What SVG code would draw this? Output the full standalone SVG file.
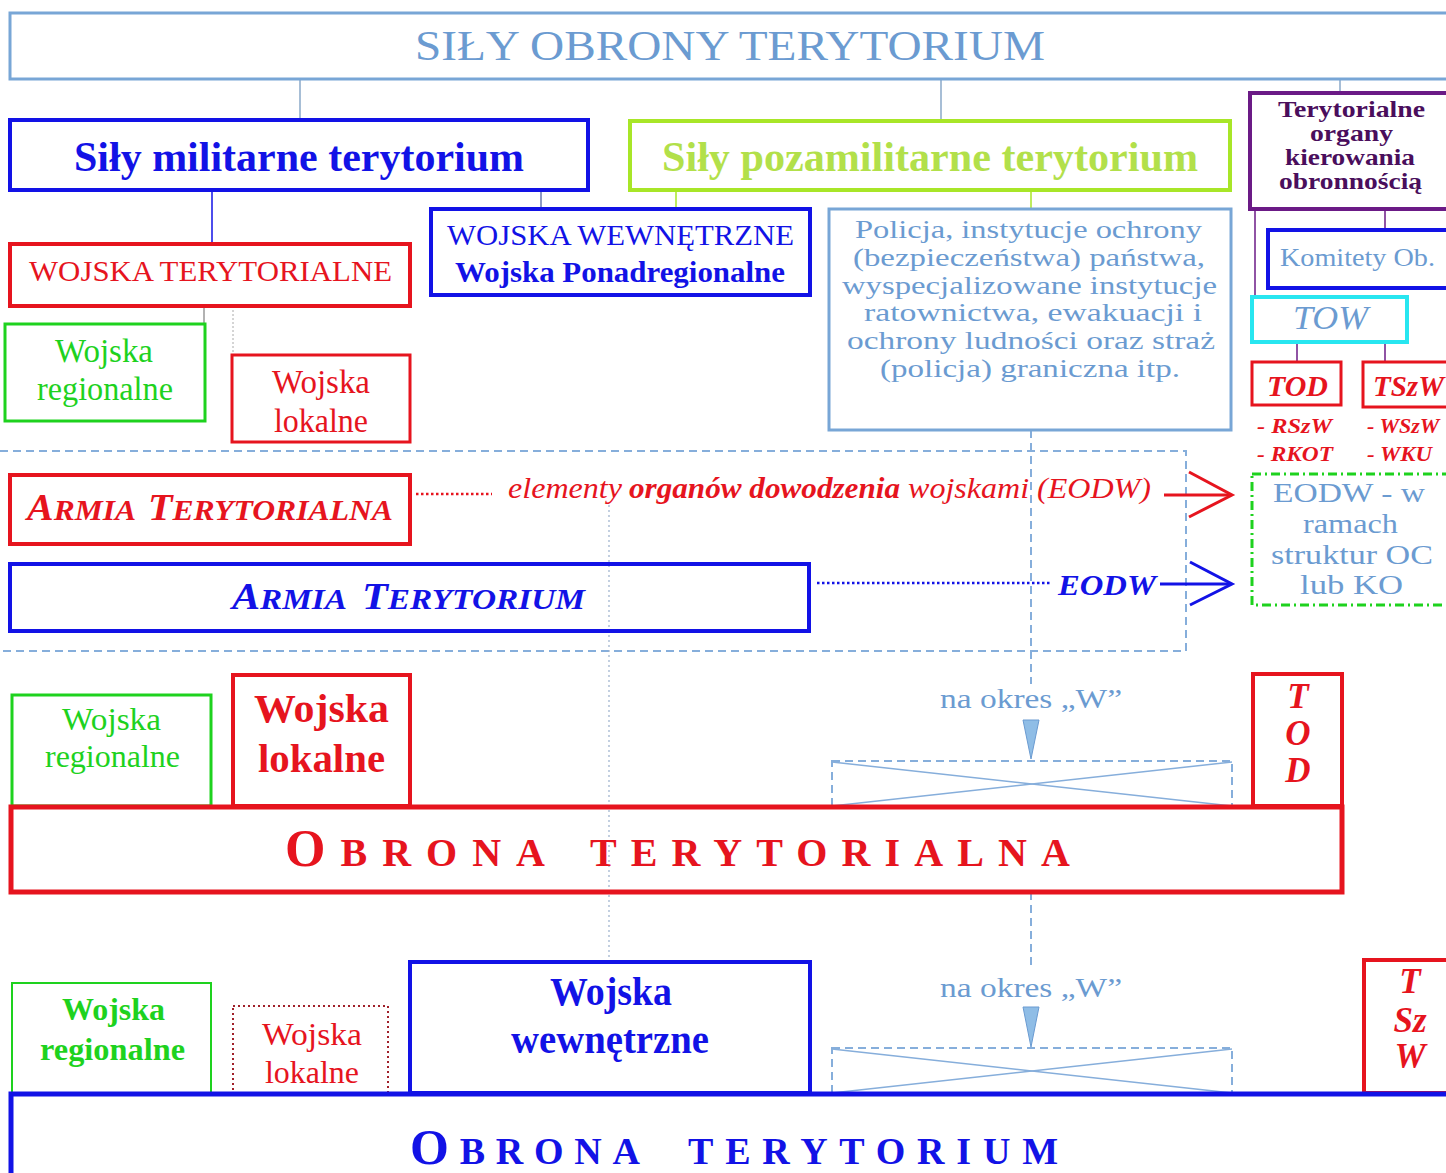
<svg xmlns="http://www.w3.org/2000/svg" width="1446" height="1173" viewBox="0 0 1446 1173">
<defs>
<style>
text{font-family:"Liberation Serif","Times New Roman",serif}
.b{font-weight:bold}
.i{font-style:italic}
.blue{fill:#1212e6}
.red{fill:#e6141e}
.green{fill:#1ed21e}
.yg{fill:#b2e04a}
.lb{fill:#6b9bd1}
.pur{fill:#4a0e5c}
.mid{text-anchor:middle}
.box{fill:none}
.sBlue{stroke:#1212e6}
.sRed{stroke:#e6141e}
.sGreen{stroke:#1ed21e}
.sYg{stroke:#a8e628}
.sLb{stroke:#78a6d6}
.sPur{stroke:#6b1a86}
.sCyan{stroke:#28e6f0}
.conn{fill:none;stroke-width:1.5}
.dash{fill:none;stroke:#86aedb;stroke-width:2;stroke-dasharray:8 5}
.dot{fill:none;stroke:#9ab0cc;stroke-width:1.2;stroke-dasharray:2 3}
.cone{fill:#8fbde6;stroke:#6b9bd1;stroke-width:1}
.xl{fill:none;stroke:#86aedb;stroke-width:1.5}
</style>
</defs>

<g id="connectors">
<line class="conn" x1="300" y1="79" x2="300" y2="120" stroke="#8aa8c8"/>
<line class="conn" x1="941" y1="79" x2="941" y2="121" stroke="#8aa8c8"/>
<line class="conn" x1="1340" y1="79" x2="1340" y2="93" stroke="#8aa8c8"/>
<line class="conn sBlue" x1="212" y1="190" x2="212" y2="244" stroke-width="2"/>
<line class="conn" x1="541" y1="190" x2="541" y2="209" stroke="#6a7ab0"/>
<line class="conn sYg" x1="676" y1="190" x2="676" y2="209" stroke-width="2.5"/>
<line class="conn sYg" x1="1031" y1="190" x2="1031" y2="209" stroke-width="2.5"/>
<line class="conn" x1="204" y1="306" x2="204" y2="324" stroke="#999"/>
<line x1="233" y1="306" x2="233" y2="354" stroke="#aaa" stroke-width="1" stroke-dasharray="2 2"/>
<line class="conn sPur" x1="1255" y1="209" x2="1255" y2="297" stroke-width="3"/>
<line class="conn sPur" x1="1385" y1="209" x2="1385" y2="230" stroke-width="3"/>
<line class="conn sPur" x1="1297" y1="342" x2="1297" y2="362" stroke-width="3"/>
<line class="conn sPur" x1="1385" y1="342" x2="1385" y2="362" stroke-width="3"/>
<polyline class="dash" points="0,451 1186,451 1186,651 0,651"/>
<line class="dash" x1="1031" y1="430" x2="1031" y2="684" stroke-width="1.5"/>
<line class="dash" x1="1031" y1="892" x2="1031" y2="965" stroke-width="1.5"/>
<line class="dot" x1="609" y1="505" x2="609" y2="962"/>
<line x1="416" y1="494" x2="492" y2="494" stroke="#e6141e" stroke-width="2.5" stroke-dasharray="2.5 2.5"/>
<line x1="1164" y1="495" x2="1230" y2="495" stroke="#e6141e" stroke-width="3"/>
<polyline points="1189,472 1232,495 1189,517" fill="none" stroke="#e6141e" stroke-width="3"/>
<line x1="817" y1="583" x2="1050" y2="583" stroke="#1212e6" stroke-width="2.5" stroke-dasharray="2.5 2.5"/>
<line x1="1160" y1="584" x2="1230" y2="584" stroke="#1212e6" stroke-width="3"/>
<polyline points="1190,562 1232,584 1190,605" fill="none" stroke="#1212e6" stroke-width="3"/>
<polygon class="cone" points="1023,720 1039,720 1031,759"/>
<rect class="dash" x="832" y="761" width="400" height="45" stroke-width="1.5"/>
<line class="xl" x1="832" y1="762" x2="1232" y2="806"/>
<line class="xl" x1="832" y1="806" x2="1232" y2="762"/>
<polygon class="cone" points="1023,1007 1039,1007 1031,1047"/>
<rect class="dash" x="832" y="1048" width="400" height="45" stroke-width="1.5"/>
<line class="xl" x1="832" y1="1049" x2="1232" y2="1093"/>
<line class="xl" x1="832" y1="1093" x2="1232" y2="1049"/>
</g>

<g id="title">
<rect class="box sLb" x="10" y="13" width="1450" height="66" stroke-width="3"/>
<text class="lb" x="415" y="60" font-size="42" textLength="630" lengthAdjust="spacingAndGlyphs">SIŁY OBRONY TERYTORIUM</text>
</g>

<g id="sily-militarne">
<rect class="box sBlue" x="10" y="120" width="578" height="70" stroke-width="4"/>
<text class="b blue" x="74" y="171" font-size="42" textLength="450" lengthAdjust="spacingAndGlyphs">Siły militarne terytorium</text>
</g>

<g id="sily-pozamilitarne">
<rect class="box sYg" x="630" y="121" width="600" height="69" stroke-width="4"/>
<text class="b yg" x="662" y="171" font-size="42" textLength="536" lengthAdjust="spacingAndGlyphs">Siły pozamilitarne terytorium</text>
</g>

<g id="wojska-terytorialne">
<rect class="box sRed" x="10" y="244" width="400" height="62" stroke-width="4"/>
<text class="red" x="29" y="281" font-size="29" textLength="363" lengthAdjust="spacingAndGlyphs">WOJSKA TERYTORIALNE</text>
</g>

<g id="wojska-wewnetrzne-top">
<rect class="box sBlue" x="431" y="209" width="379" height="86" stroke-width="4"/>
<text class="blue" x="447" y="245" font-size="30" textLength="347" lengthAdjust="spacingAndGlyphs">WOJSKA WEWNĘTRZNE</text>
<text class="b blue" x="455" y="282" font-size="30" textLength="330" lengthAdjust="spacingAndGlyphs">Wojska Ponadregionalne</text>
</g>

<g id="policja">
<rect class="box sLb" x="829" y="209" width="402" height="221" stroke-width="3"/>
<text class="lb" x="855" y="238" font-size="26" textLength="347" lengthAdjust="spacingAndGlyphs">Policja, instytucje ochrony</text>
<text class="lb" x="853" y="266" font-size="26" textLength="352" lengthAdjust="spacingAndGlyphs">(bezpieczeństwa) państwa,</text>
<text class="lb" x="842" y="294" font-size="26" textLength="375" lengthAdjust="spacingAndGlyphs">wyspecjalizowane instytucje</text>
<text class="lb" x="864" y="321" font-size="26" textLength="338" lengthAdjust="spacingAndGlyphs">ratownictwa, ewakuacji i</text>
<text class="lb" x="847" y="349" font-size="26" textLength="368" lengthAdjust="spacingAndGlyphs">ochrony ludności oraz straż</text>
<text class="lb" x="880" y="377" font-size="26" textLength="300" lengthAdjust="spacingAndGlyphs">(policja) graniczna itp.</text>
</g>

<g id="wojska-regionalne-1">
<rect class="box sGreen" x="5" y="324" width="200" height="97" stroke-width="3"/>
<text class="green" x="55" y="362" font-size="33" textLength="98" lengthAdjust="spacingAndGlyphs">Wojska</text>
<text class="green" x="37" y="400" font-size="33" textLength="136" lengthAdjust="spacingAndGlyphs">regionalne</text>
</g>

<g id="wojska-lokalne-1">
<rect class="box sRed" x="232" y="355" width="178" height="87" stroke-width="3"/>
<text class="red" x="272" y="393" font-size="33" textLength="98" lengthAdjust="spacingAndGlyphs">Wojska</text>
<text class="red" x="274" y="432" font-size="33" textLength="94" lengthAdjust="spacingAndGlyphs">lokalne</text>
</g>

<g id="terytorialne-organy">
<rect class="box sPur" x="1250" y="93" width="210" height="116" stroke-width="4"/>
<text class="b pur" x="1278" y="117" font-size="23" textLength="147" lengthAdjust="spacingAndGlyphs">Terytorialne</text>
<text class="b pur" x="1310" y="141" font-size="23" textLength="83" lengthAdjust="spacingAndGlyphs">organy</text>
<text class="b pur" x="1285" y="165" font-size="23" textLength="130" lengthAdjust="spacingAndGlyphs">kierowania</text>
<text class="b pur" x="1279" y="189" font-size="23" textLength="143" lengthAdjust="spacingAndGlyphs">obronnością</text>
</g>

<g id="komitety">
<rect class="box sBlue" x="1268" y="230" width="190" height="58" stroke-width="4"/>
<text class="lb" x="1280" y="266" font-size="26" textLength="155" lengthAdjust="spacingAndGlyphs">Komitety Ob.</text>
</g>

<g id="tow">
<rect class="box sCyan" x="1252" y="297" width="155" height="45" stroke-width="4"/>
<text class="i lb" x="1293" y="329" font-size="33" textLength="75" lengthAdjust="spacingAndGlyphs">TOW</text>
</g>

<g id="tod-small">
<rect class="box sRed" x="1252" y="362" width="89" height="43" stroke-width="3"/>
<text class="b i red" x="1267" y="396" font-size="29" textLength="61" lengthAdjust="spacingAndGlyphs">TOD</text>
<text class="b i red" x="1257" y="433" font-size="22" textLength="75" lengthAdjust="spacingAndGlyphs">- RSzW</text>
<text class="b i red" x="1257" y="461" font-size="22" textLength="76" lengthAdjust="spacingAndGlyphs">- RKOT</text>
</g>

<g id="tszw-small">
<rect class="box sRed" x="1363" y="362" width="97" height="45" stroke-width="3"/>
<text class="b i red" x="1373" y="396" font-size="29">TSzW</text>
<text class="b i red" x="1367" y="433" font-size="22">- WSzW</text>
<text class="b i red" x="1367" y="461" font-size="22" textLength="65" lengthAdjust="spacingAndGlyphs">- WKU</text>
</g>

<g id="eodw-box">
<rect x="1252" y="474" width="210" height="131" fill="none" stroke="#1ed21e" stroke-width="3" stroke-dasharray="9 4 2 4"/>
<text class="lb" x="1273" y="502" font-size="27" textLength="152" lengthAdjust="spacingAndGlyphs">EODW - w</text>
<text class="lb" x="1303" y="533" font-size="27" textLength="95" lengthAdjust="spacingAndGlyphs">ramach</text>
<text class="lb" x="1271" y="564" font-size="27" textLength="162" lengthAdjust="spacingAndGlyphs">struktur OC</text>
<text class="lb" x="1300" y="594" font-size="27" textLength="103" lengthAdjust="spacingAndGlyphs">lub KO</text>
</g>

<g id="armia-terytorialna">
<rect class="box sRed" x="10" y="475" width="400" height="69" stroke-width="4"/>
<text class="b i red" x="27" y="520" font-size="30" textLength="109" lengthAdjust="spacingAndGlyphs"><tspan font-size="38">A</tspan>RMIA</text>
<text class="b i red" x="148" y="520" font-size="30" textLength="245" lengthAdjust="spacingAndGlyphs"><tspan font-size="38">T</tspan>ERYTORIALNA</text>
</g>

<g id="eodw-label">
<text class="i red" x="508" y="498" font-size="30" textLength="114" lengthAdjust="spacingAndGlyphs">elementy</text>
<text class="b i red" x="629" y="498" font-size="30" textLength="271" lengthAdjust="spacingAndGlyphs">organów dowodzenia</text>
<text class="i red" x="908" y="498" font-size="30" textLength="243" lengthAdjust="spacingAndGlyphs">wojskami (EODW)</text>
</g>

<g id="armia-terytorium">
<rect class="box sBlue" x="10" y="564" width="799" height="67" stroke-width="4"/>
<text class="b i blue" x="232" y="609" font-size="30" textLength="115" lengthAdjust="spacingAndGlyphs"><tspan font-size="38">A</tspan>RMIA</text>
<text class="b i blue" x="362" y="609" font-size="30" textLength="223" lengthAdjust="spacingAndGlyphs"><tspan font-size="38">T</tspan>ERYTORIUM</text>
<text class="b i blue" x="1058" y="595" font-size="30" textLength="98" lengthAdjust="spacingAndGlyphs">EODW</text>
</g>

<g id="na-okres-1">
<text class="lb" x="940" y="708" font-size="28" textLength="182" lengthAdjust="spacingAndGlyphs">na okres „W”</text>
</g>

<g id="wojska-regionalne-2">
<rect class="box sGreen" x="12" y="695" width="199" height="111" stroke-width="3"/>
<text class="green" x="62" y="730" font-size="32" textLength="99" lengthAdjust="spacingAndGlyphs">Wojska</text>
<text class="green" x="45" y="767" font-size="32" textLength="135" lengthAdjust="spacingAndGlyphs">regionalne</text>
</g>

<g id="wojska-lokalne-2">
<rect class="box sRed" x="233" y="675" width="177" height="131" stroke-width="4"/>
<text class="b red" x="254" y="722" font-size="40" textLength="135" lengthAdjust="spacingAndGlyphs">Wojska</text>
<text class="b red" x="258" y="772" font-size="40" textLength="127" lengthAdjust="spacingAndGlyphs">lokalne</text>
</g>

<g id="tod-vertical">
<rect class="box sRed" x="1253" y="674" width="89" height="132" stroke-width="4"/>
<text class="b i red mid" x="1298" y="708" font-size="35">T</text>
<text class="b i red mid" x="1298" y="745" font-size="35">O</text>
<text class="b i red mid" x="1298" y="782" font-size="35">D</text>
</g>

<g id="obrona-terytorialna">
<rect class="box sRed" x="11" y="807" width="1331" height="85" stroke-width="5"/>
<text class="b red" x="285" y="866" font-size="40" textLength="260" lengthAdjust="spacing"><tspan font-size="52">O</tspan>BRONA</text>
<text class="b red" x="590" y="866" font-size="40" textLength="480" lengthAdjust="spacing">TERYTORIALNA</text>
</g>

<g id="na-okres-2">
<text class="lb" x="940" y="997" font-size="28" textLength="182" lengthAdjust="spacingAndGlyphs">na okres „W”</text>
</g>

<g id="wojska-regionalne-3">
<rect class="box sGreen" x="12" y="983" width="199" height="110" stroke-width="2"/>
<text class="b green" x="62" y="1020" font-size="32" textLength="103" lengthAdjust="spacingAndGlyphs">Wojska</text>
<text class="b green" x="40" y="1060" font-size="32" textLength="145" lengthAdjust="spacingAndGlyphs">regionalne</text>
</g>

<g id="wojska-lokalne-3">
<rect x="233" y="1006" width="155" height="87" fill="none" stroke="#a0202a" stroke-width="2" stroke-dasharray="2 3"/>
<text class="red" x="262" y="1045" font-size="31" textLength="100" lengthAdjust="spacingAndGlyphs">Wojska</text>
<text class="red" x="265" y="1083" font-size="31" textLength="94" lengthAdjust="spacingAndGlyphs">lokalne</text>
</g>

<g id="wojska-wewnetrzne-bottom">
<rect class="box sBlue" x="410" y="962" width="400" height="131" stroke-width="4"/>
<text class="b blue" x="550" y="1005" font-size="40" textLength="122" lengthAdjust="spacingAndGlyphs">Wojska</text>
<text class="b blue" x="511" y="1053" font-size="40" textLength="198" lengthAdjust="spacingAndGlyphs">wewnętrzne</text>
</g>

<g id="tszw-vertical">
<rect class="box sRed" x="1364" y="960" width="100" height="133" stroke-width="4"/>
<text class="b i red mid" x="1410" y="993" font-size="35">T</text>
<text class="b i red mid" x="1410" y="1032" font-size="35">Sz</text>
<text class="b i red mid" x="1410" y="1068" font-size="35">W</text>
</g>

<g id="obrona-terytorium">
<rect class="box sBlue" x="11" y="1094" width="1450" height="100" stroke-width="5"/>
<text class="b blue" x="410" y="1164" font-size="38" textLength="230" lengthAdjust="spacing"><tspan font-size="50">O</tspan>BRONA</text>
<text class="b blue" x="688" y="1164" font-size="38" textLength="370" lengthAdjust="spacing">TERYTORIUM</text>
</g>
</svg>
